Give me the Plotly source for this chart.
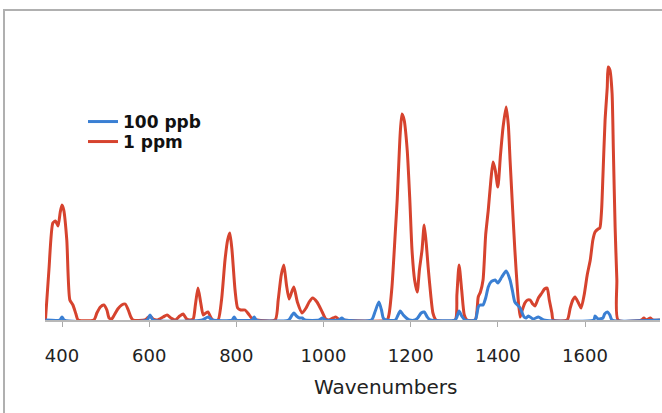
import plotly.graph_objects as go

# Wavenumbers (cm-1) and intensities (a.u.)
red_x = [362, 370, 379, 385, 391, 396, 400, 404, 411, 418, 425, 432, 437,
         473, 480, 488, 496, 503, 508, 514, 520, 528, 537, 545, 552, 558, 563,
         590, 596, 602, 609, 618, 632, 641, 650, 660, 670, 678, 686, 694,
         701, 706, 712, 718, 724, 730, 735, 741, 746,
         758, 766, 774, 780, 785, 790, 797, 803, 810, 820, 828, 835, 847,
         889, 896, 903, 909, 915, 921, 927, 932, 940, 951, 960, 967, 975, 985, 997, 1005, 1012,
         1022, 1028, 1034, 1040,
         1146, 1150, 1157, 1165, 1169, 1176, 1180, 1185, 1192, 1198, 1203, 1209, 1215,
         1220, 1226, 1231, 1236, 1240, 1246, 1251, 1258,
         1302, 1306, 1311, 1317, 1323, 1329,
         1348, 1355, 1360, 1366, 1372, 1378, 1384, 1389, 1394, 1400, 1406, 1412, 1419,
         1424, 1428, 1434, 1439, 1445, 1451, 1456, 1462, 1468, 1474, 1480, 1485, 1493,
         1501, 1507, 1513, 1518, 1524, 1527,
         1559, 1566, 1572, 1577, 1585, 1591, 1598, 1605, 1612, 1618, 1623, 1630, 1634,
         1638, 1641, 1646, 1651, 1653, 1657, 1662, 1665, 1669, 1673, 1676,
         1730, 1735, 1740, 1750, 1755, 1772]
red_y = [0, 50, 97, 99, 94, 108, 115, 110, 80, 20, 15, 6, 0,
         0, 7, 13, 15, 10, 2, 1, 5, 11, 15, 16, 10, 3, 0,
         0, 2, 4, 1, 0, 3, 5, 2, 0, 4, 6, 1, 0,
         1, 15, 32, 18, 5, 7, 8, 3, 0,
         0, 20, 60, 80, 87, 70, 30, 12, 10, 10, 6, 2, 0,
         0, 20, 45, 55, 35, 21, 28, 33, 18, 7, 12, 18, 22, 18, 8, 1, 0,
         2, 3, 1, 0,
         0, 5, 33, 90, 120, 187, 206, 200, 170, 120, 70, 40, 28,
         50, 70, 95, 75, 53, 25, 7, 0,
         0, 25, 55, 30, 5, 0,
         0, 23, 28, 40, 85, 110, 140, 158, 150, 133, 165, 193, 213,
         195, 160, 110, 70, 30, 3, 10, 17, 20, 20, 16, 14, 22,
         27, 31, 32, 20, 7, 0,
         0, 12, 20, 23, 17, 12, 25, 45, 60, 80, 88, 91, 92,
         110, 143, 200, 233, 253, 250, 227, 170, 93, 40, 0,
         0, 2, 0, 2, 0, 0]

blue_x = [362, 395, 400, 405, 595, 602, 609, 722, 735, 745, 790, 795, 800,
          836, 841, 846, 920, 928, 932, 938, 945, 951, 958, 990, 997, 1004,
          1035, 1042, 1048, 1110, 1118, 1127, 1133, 1137, 1143,
          1165, 1170, 1176, 1183, 1190, 1197, 1210, 1216, 1224, 1231, 1238, 1245,
          1302, 1306, 1311, 1317, 1325,
          1348, 1355, 1359, 1366, 1372, 1378, 1384, 1394, 1400, 1409, 1419,
          1428, 1434, 1439, 1451, 1460, 1465, 1470, 1481, 1493, 1505,
          1620, 1623, 1630, 1641, 1645, 1651, 1657, 1662, 1772]
blue_y = [0, 0, 3, 0, 0, 5, 0, 0, 3, 0, 0, 3, 0,
          0, 3, 0, 0, 5, 7, 4, 2, 2, 0, 0, 2, 0,
          0, 2, 0, 0, 8, 18, 10, 2, 0,
          0, 4, 9, 5, 2, 0, 0, 2, 7, 8, 3, 0,
          0, 3, 9, 4, 0,
          0, 13, 15, 15, 22, 33, 38, 40, 37, 43, 49,
          40, 28, 18, 12, 3, 2, 4, 1, 3, 0,
          0, 4, 1, 2, 6, 8, 5, 0, 0]

tick_vals = [400, 600, 800, 1000, 1200, 1400, 1600]
tick_text = ["400", "600", "800", "1000", "1200", "1400", "1600"]
series_names = ["100 ppb", "1 ppm"]

RED = "#d6432e"
BLUE = "#3a7fd3"

fig = go.Figure()
fig.add_trace(go.Scatter(x=red_x, y=red_y, mode="lines", name="<b>" + series_names[1] + "</b>",
                         legend="legend2",
                         line=dict(color=RED, width=3, shape="spline", smoothing=0.6)))
fig.add_trace(go.Scatter(x=blue_x, y=blue_y, mode="lines", name="<b>" + series_names[0] + "</b>",
                         legend="legend",
                         line=dict(color=BLUE, width=3, shape="spline", smoothing=0.6)))

legend_font = dict(family="DejaVu Sans", size=17, color="#111")
fig.update_layout(
    width=662, height=413,
    margin=dict(l=45, r=2, t=20, b=93),
    paper_bgcolor="white", plot_bgcolor="white",
    showlegend=True,
    legend=dict(x=(83 - 45) / 615, y=(320 - 104) / 300, xanchor="left", yanchor="top",
                font=legend_font, bgcolor="rgba(0,0,0,0)", itemwidth=30),
    legend2=dict(x=(83 - 45) / 615, y=(320 - 124) / 300, xanchor="left", yanchor="top",
                 font=legend_font, bgcolor="rgba(0,0,0,0)", itemwidth=30),
    xaxis=dict(range=[361, 1772], tickvals=tick_vals, ticktext=tick_text,
               showgrid=False, zeroline=False, showline=True,
               linecolor="#b8b8b8", linewidth=1.5,
               ticks="outside", ticklen=5, tickcolor="#aaaaaa",
               ticklabelstandoff=14,
               tickfont=dict(family="DejaVu Sans", size=18, color="#222")),
    yaxis=dict(range=[0, 300], visible=False),
    annotations=[dict(text="Wavenumbers", xref="paper", yref="paper",
                      x=(385 - 45) / 615, y=(320 - 387) / 300,
                      xanchor="center", yanchor="middle", showarrow=False,
                      font=dict(family="DejaVu Sans", size=20, color="#222"))],
    shapes=[dict(type="rect", xref="paper", yref="paper",
                 x0=(4 - 45) / 615, x1=(680 - 45) / 615,
                 y0=(320 - 430) / 300, y1=(320 - 10) / 300,
                 line=dict(color="#b0b0b0", width=2), fillcolor="rgba(0,0,0,0)",
                 layer="below")],
)
fig.write_html("out.html")
